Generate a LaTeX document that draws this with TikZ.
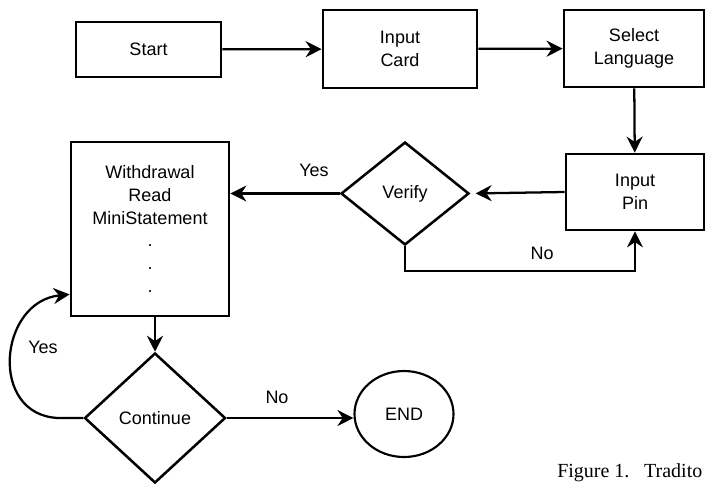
\documentclass[tikz,border=0pt]{standalone}
\usepackage{fontspec}
\setmainfont{Liberation Sans}
\newfontfamily\capfont{Liberation Serif}
\usepackage{tikz}
\usetikzlibrary{positioning,shapes.geometric,arrows.meta,calc}

\tikzset{
    blk/.style={draw, line width=2.1pt, align=center, inner sep=0pt, font=\fontsize{13.5}{17}\selectfont},
    dec/.style={draw, diamond, line width=1.9pt, inner sep=0pt, font=\fontsize{13.5}{17}\selectfont},
    lbl/.style={inner sep=0pt, font=\fontsize{13.5}{17}\selectfont},
    arr/.style={-{Stealth[length=12pt,width=12pt,inset=4pt]}, line width=1.7pt}
}

\begin{document}
\begin{tikzpicture}[x=0.75pt,y=0.75pt,yscale=-1,xscale=1]
        %set diagram to 705 x 486
        \useasboundingbox (0,0) rectangle (705,486);
        %Shape: Rectangle [start]
        \node [blk, minimum width=108.75pt, minimum height=41.25pt] (start) at (148.5,49.5) {Start};
        %Shape: Rectangle [card]
        \node [blk, minimum width=115.5pt, minimum height=58.5pt] (card) at (400,49) {Input\\Card};
        %Shape: Rectangle [sel]
        \node [blk, minimum width=105pt, minimum height=57.75pt] (sel) at (634,48.5) {Select\\Language};
        %Shape: Rectangle [pin]
        \node [blk, minimum width=103.5pt, minimum height=57pt] (pin) at (635,192) {Input\\Pin};
        %Shape: Diamond [ver]
        \node [dec, minimum width=96pt, minimum height=77.25pt] (ver) at (405,193.5) {Verify};
        %Shape: Rectangle [wd]
        \node [blk, minimum width=118.5pt, minimum height=130.5pt] (wd) at (150,229) {Withdrawal\\Read\\MiniStatement\\.\\.\\.};
        %Shape: Diamond [cont]
        \node [dec, minimum width=105.75pt, minimum height=97.5pt] (cont) at (155,418) {Continue};
        %Shape: Ellipse [end]
        \node [draw, ellipse, line width=1.6pt, inner sep=0pt, minimum width=74.25pt, minimum height=64.5pt,
            font=\fontsize{13.5}{17}\selectfont] (end) at (404,414) {END};

        %Straight Lines
        \draw [arr] (start) -- (card);
        \draw [arr] (card) -- (sel);
        \draw [arr] (sel) -- (pin);
        \draw [arr, shorten >=4pt] (pin.west) -- (ver.east);
        \draw [arr] (ver.west) -- (ver.west -| wd.east);
        \draw [arr] (ver.south) -- ++(0,25) -| (pin.south);
        \draw [arr] (wd.south -| cont.north) -- (cont.north);
        \draw [arr] (cont.east) -- (cont.east -| end.west);
        %Curve Lines
        \draw [arr] (cont.west) -- ++(-25,0) .. controls +(-70,-3) and +(-71,7) .. ($(wd.south west)+(0,-23)$);

        % Text Node
        \node [lbl] (yes1) at (314,170) {Yes};
        \node [lbl] (no1) at (542,253) {No};
        \node [lbl] (yes2) at (43,347) {Yes};
        \node [lbl] (no2) at (277,397) {No};
        \node [lbl, anchor=base west, font=\capfont\fontsize{15}{18}\selectfont] (cap) at (557,477) {Figure 1.\hspace{11pt}Tradito};
\end{tikzpicture}
\end{document}
